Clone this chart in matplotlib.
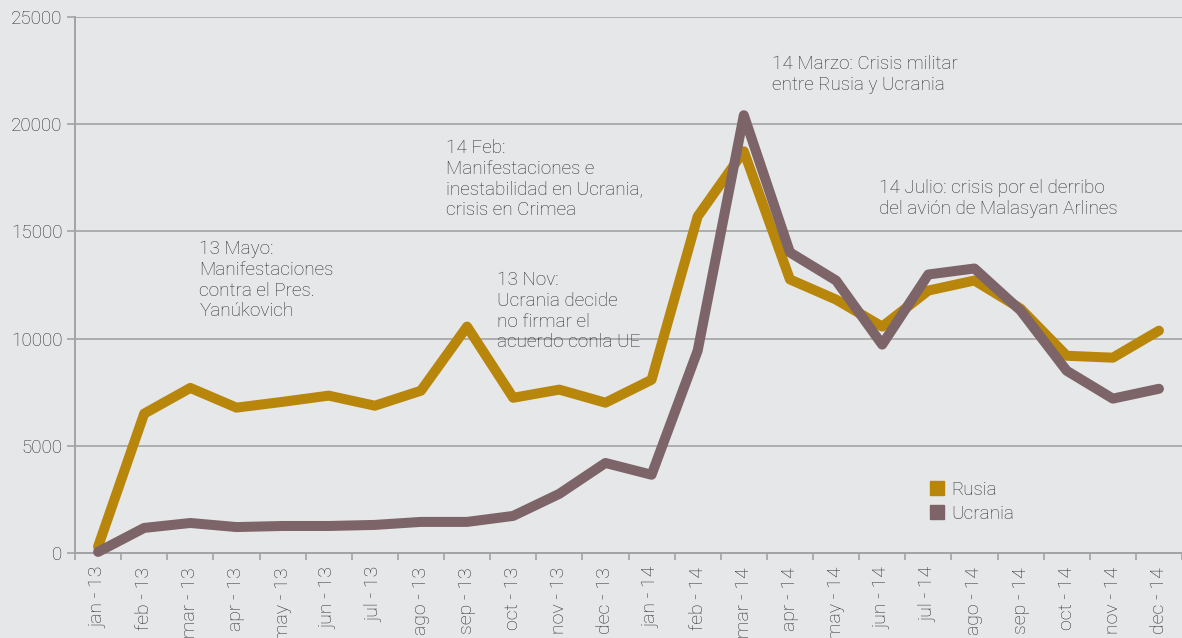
import matplotlib
matplotlib.use("Agg")
import matplotlib.pyplot as plt
from matplotlib.lines import Line2D

meses = ["jan - 13", "feb - 13", "mar - 13", "apr - 13", "may - 13", "jun - 13",
         "jul - 13", "ago - 13", "sep - 13", "oct - 13", "nov - 13", "dec - 13",
         "jan - 14", "feb - 14", "mar - 14", "apr - 14", "may - 14", "jun - 14",
         "jul - 14", "ago - 14", "sep - 14", "oct - 14", "nov - 14", "dec - 14"]
rusia = [300, 6500, 7700, 6780, 7050, 7340, 6870, 7570, 10560, 7240, 7620, 7010,
         8080, 15700, 18740, 12760, 11820, 10560, 12240, 12710, 11400, 9200, 9110, 10370]
ucrania = [50, 1170, 1400, 1210, 1260, 1260, 1310, 1450, 1450, 1730, 2760, 4200,
           3650, 9440, 20420, 14020, 12710, 9720, 12990, 13270, 11310, 8500, 7200, 7660]

C_RUS = "#B8860A"
C_UCR = "#7C6468"
BG = "#E6E7E8"
TXT = "#2E2E2E"
GRID = "#A3A3A3"

plt.rcParams["font.family"] = ["Roboto", "DejaVu Sans"]

fig = plt.figure(figsize=(11.82, 6.38), dpi=100, facecolor=BG)
ax = fig.add_axes([75 / 1182, 1 - 553 / 638, 1 - 75 / 1182, (553 - 17) / 638])
ax.set_facecolor(BG)

x = list(range(len(meses)))
ax.plot(x, rusia, color=C_RUS, lw=7.2, solid_capstyle="round",
        solid_joinstyle="round", zorder=3, clip_on=False)
ax.plot(x, ucrania, color=C_UCR, lw=7.2, solid_capstyle="round",
        solid_joinstyle="round", zorder=4, clip_on=False)

ax.set_xlim(-0.5, 23.5)
ax.set_ylim(0, 25000)
ax.set_yticks(range(0, 25001, 5000))
ax.set_yticklabels([str(v) for v in range(0, 25001, 5000)], fontsize=13.6,
                   color=TXT, fontweight="light")
ax.grid(axis="y", color=GRID, lw=1.2, zorder=1)
ax.set_axisbelow(True)

ax.set_xticks(x)
ax.set_xticklabels(meses, rotation=90, fontsize=14, color=TXT,
                   fontweight="light", va="top", ha="center")
ax.set_xticks([i - 0.5 for i in range(len(meses) + 1)], minor=True)
ax.tick_params(axis="x", which="major", length=0, pad=10)
ax.tick_params(axis="x", which="minor", length=5, color=GRID, width=1.2)
ax.tick_params(axis="y", length=6, color=GRID, width=1.2, pad=3)

for s in ["top", "right"]:
    ax.spines[s].set_visible(False)
for s in ["left", "bottom"]:
    ax.spines[s].set_color(GRID)
    ax.spines[s].set_linewidth(1.4)


def px(xp, yp):
    # pixel position in the canvas -> data coordinates
    return (xp - 97.6) / 46.18, (553 - yp) / 21.44 * 1000


notas = [
    (199, 240, "13 Mayo:\nManifestaciones\ncontra el Pres.\nYanúkovich"),
    (446, 139, "14 Feb:\nManifestaciones e\ninestabilidad en Ucrania,\ncrisis en Crimea"),
    (497, 271, "13 Nov:\nUcrania decide\nno firmar el\nacuerdo conla UE"),
    (772, 55, "14 Marzo: Crisis militar\nentre Rusia y Ucrania"),
    (879, 179, "14 Julio: crisis por el derribo\ndel avión de Malasyan Arlines"),
]
for xp, yp, t in notas:
    ax.text(*px(xp, yp), t, ha="left", va="top", fontsize=13.6, color=TXT,
            fontweight="light", linespacing=1.2, zorder=5)

handles = [Line2D([], [], marker="s", ls="none", color=C_RUS, markersize=9.5),
           Line2D([], [], marker="s", ls="none", color=C_UCR, markersize=9.5)]
ax.legend(handles, ["Rusia", "Ucrania"], frameon=False,
          loc="upper left", bbox_to_anchor=(911 / 1182, 1 - 464 / 638),
          bbox_transform=fig.transFigure, handletextpad=0.25, labelspacing=0.3,
          handlelength=1.0, labelcolor=TXT, prop={"weight": "light", "size": 13.6})

fig.savefig("out.png", dpi=100, facecolor=BG)
